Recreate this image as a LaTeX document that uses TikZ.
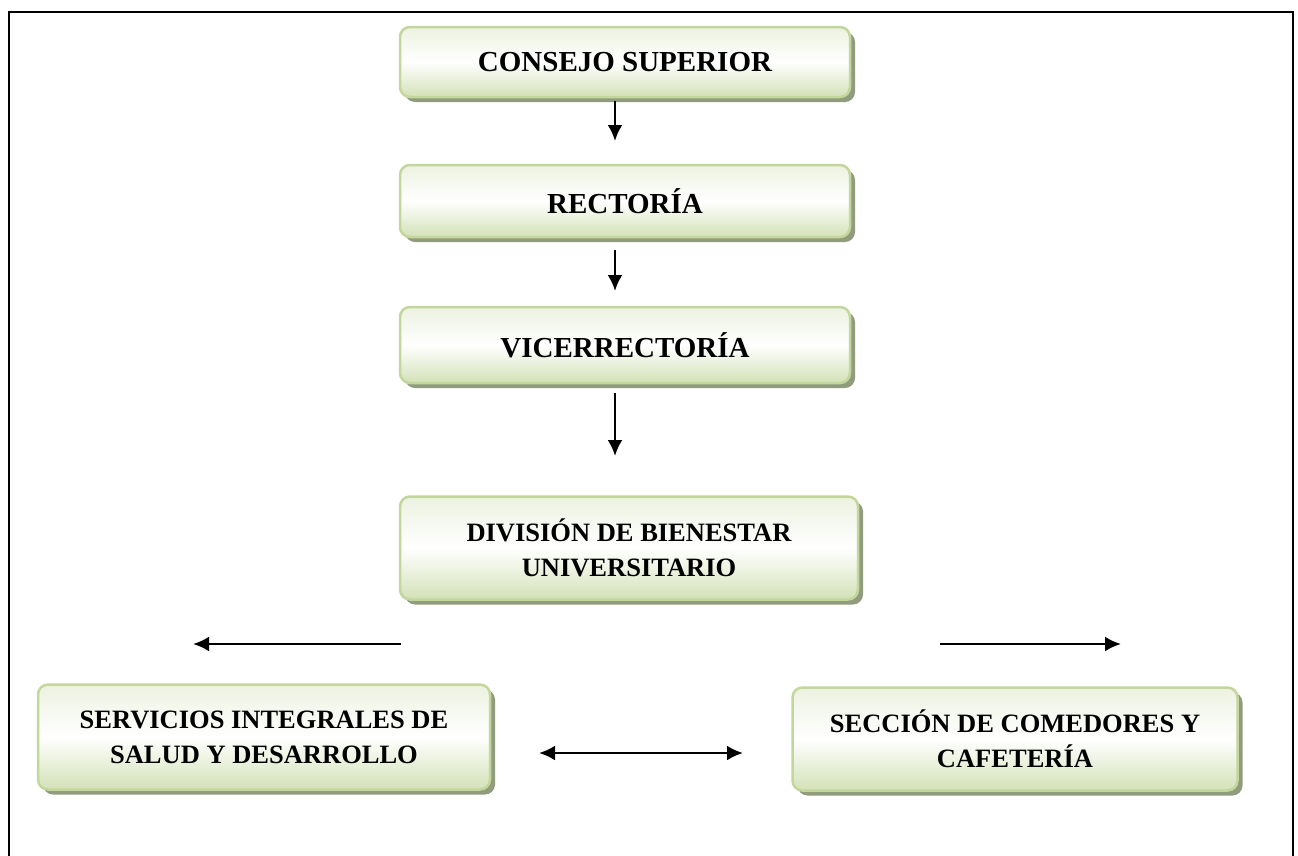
\documentclass[tikz,border=0pt]{standalone}
\usepackage{fontspec}
\setmainfont{Liberation Serif}
\usetikzlibrary{arrows.meta,shadows}
\definecolor{boxborder}{RGB}{195,214,155}
\definecolor{boxbottom}{RGB}{211,225,183}
\definecolor{boxtop}{RGB}{236,242,224}
\definecolor{shadowcol}{RGB}{145,155,125}
\tikzset{
  orgbox/.style={draw=boxborder, line width=2.5pt, rounded corners=10pt,
    top color=boxtop, bottom color=boxbottom, middle color=white,
    drop shadow={shadow xshift=5pt, shadow yshift=-5pt, fill=shadowcol, opacity=1},
    align=center, font=\bfseries\fontsize{29}{35}\selectfont, inner sep=0pt},
  smallbox/.style={orgbox, font=\bfseries\fontsize{26.5}{35}\selectfont},
  conn/.style={line width=2.6pt, -{Latex[length=16pt,width=15pt]}},
  dconn/.style={line width=2.6pt, {Latex[length=16pt,width=15pt]}-{Latex[length=16pt,width=15pt]}}
}
\begin{document}
\begin{tikzpicture}[x=1pt,y=-1pt]
\useasboundingbox (0,0) rectangle (1298,855);
\draw[line width=2.5pt] (9,870) -- (9,12) -- (1293,12) -- (1293,870);
\node[orgbox, minimum width=450pt, minimum height=70pt] (cs) at (625,62) {CONSEJO SUPERIOR};
\node[orgbox, minimum width=450pt, minimum height=72pt] (re) at (625,201) {RECTORÍA};
\node[orgbox, minimum width=450pt, minimum height=76pt] (vi) at (625,345) {VICERRECTORÍA};
\node[smallbox, minimum width=458pt, minimum height=103pt] (db) at (629,548) {DIVISIÓN DE BIENESTAR\\UNIVERSITARIO};
\node[smallbox, minimum width=452pt, minimum height=105pt] (si) at (264,737) {SERVICIOS INTEGRALES DE\\SALUD Y DESARROLLO};
\node[smallbox, minimum width=445pt, minimum height=103pt] (sc) at (1015,739) {SECCIÓN DE COMEDORES Y\\CAFETERÍA};
\coordinate (a1s) at (615,101);
\coordinate (a1e) at (615,141);
\coordinate (a2s) at (615,250);
\coordinate (a2e) at (615,291);
\coordinate (a3s) at (615,393);
\coordinate (a3e) at (615,456);
\coordinate (l1s) at (401,644);
\coordinate (l1e) at (193,644);
\coordinate (r1s) at (940,644);
\coordinate (r1e) at (1121,644);
\coordinate (d1s) at (539,753);
\coordinate (d1e) at (743,753);
\draw[conn] (a1s) -- (a1e);
\draw[conn] (a2s) -- (a2e);
\draw[conn] (a3s) -- (a3e);
\draw[conn] (l1s) -- (l1e);
\draw[conn] (r1s) -- (r1e);
\draw[dconn] (d1s) -- (d1e);
\end{tikzpicture}
\end{document}
